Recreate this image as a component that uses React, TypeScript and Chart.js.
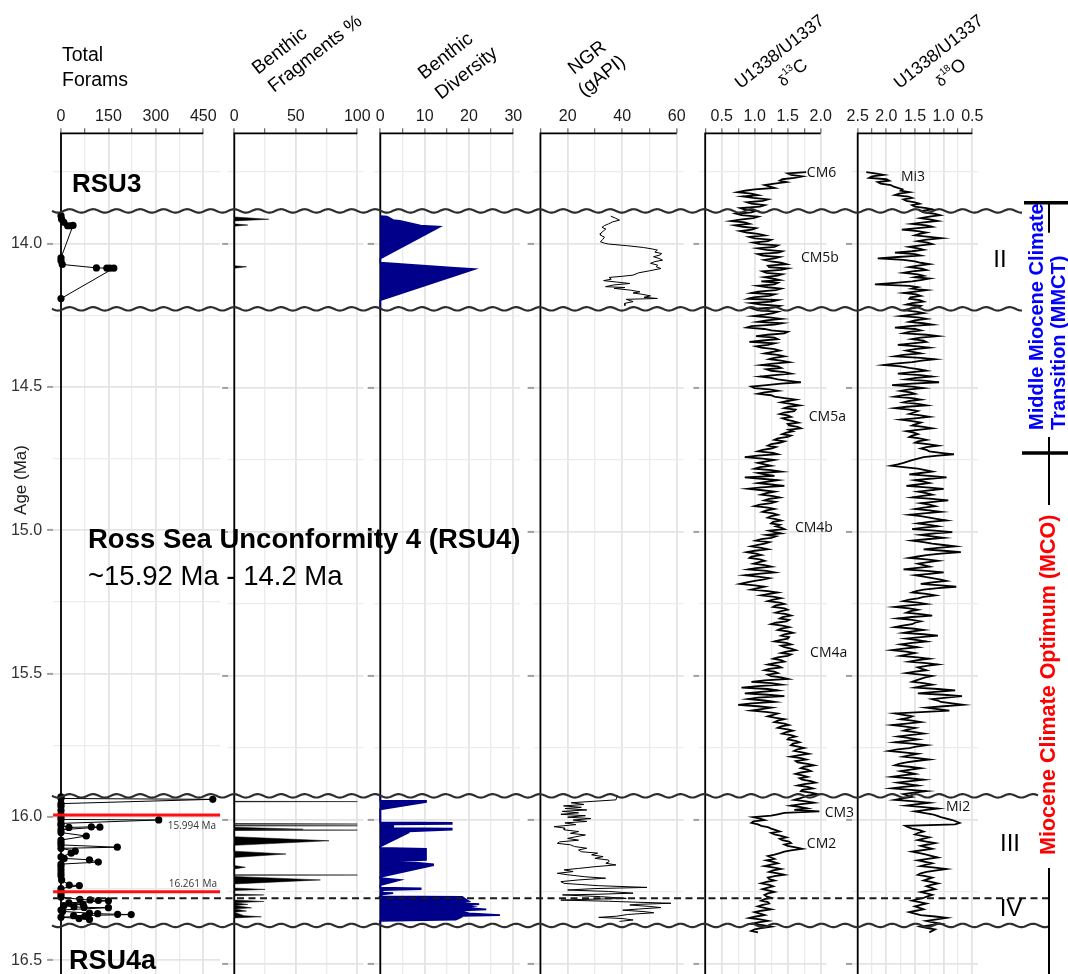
import React, { useEffect, useRef } from "react";
import { Chart, registerables } from "chart.js";

Chart.register(...registerables);

const SANS = "'Liberation Sans', Arial, Helvetica, sans-serif";
const OPEN = "'Open Sans', 'Liberation Sans', sans-serif";

// ---------------- shared age axis ----------------
const AGE_MIN = 13.6155;
const AGE_MAX = 16.5902;
const AGE_TICKS = [13.75, 14.0, 14.25, 14.5, 14.75, 15.0, 15.25, 15.5, 15.75, 16.0, 16.25, 16.5];
const AGE_MAJOR = [14.0, 14.5, 15.0, 15.5, 16.0, 16.5];

// ---------------- x ticks per panel ----------------
const FORAM_TICKS = [0, 75, 150, 225, 300, 375, 450];
const FORAM_LABELS = [0, 150, 300, 450];
const FRAG_TICKS = [0, 25, 50, 75, 100];
const FRAG_LABELS = [0, 50, 100];
const DIV_TICKS = [0, 5, 10, 15, 20, 25, 30];
const DIV_LABELS = [0, 10, 20, 30];
const NGR_TICKS = [10, 20, 30, 40, 50, 60];
const NGR_LABELS = [20, 40, 60];
const C13_TICKS = [0.25, 0.5, 0.75, 1.0, 1.25, 1.5, 1.75, 2.0];
const C13_LABELS = [0.5, 1.0, 1.5, 2.0];
const O18_TICKS = [0.5, 0.75, 1.0, 1.25, 1.5, 1.75, 2.0, 2.25, 2.5];
const O18_LABELS = [0.5, 1.0, 1.5, 2.0, 2.5];

// ---------------- data: [age (Ma), value] ----------------
const FORAMS_TOP = [
  [13.903, 0], [13.915, 2], [13.926, 9], [13.938, 21], [13.938, 31], [13.937, 38],
  [14.05, 0], [14.06, 0], [14.073, 4], [14.085, 112], [14.086, 145], [14.086, 155], [14.086, 167], [14.192, 0],
];
const FORAMS_BOTTOM = [
  [15.93, 0], [15.936, 0], [15.939, 480], [15.954, 0], [15.963, 0], [15.977, 0], [15.991, 0], [16.0, 0],
  [16.009, 0], [16.011, 309], [16.023, 0], [16.03, 0], [16.037, 25], [16.035, 96], [16.036, 123], [16.045, 0],
  [16.055, 0], [16.067, 80], [16.081, 0], [16.09, 0], [16.098, 0], [16.106, 178], [16.11, 0], [16.12, 45],
  [16.127, 32], [16.14, 0], [16.145, 10], [16.15, 90], [16.158, 118], [16.165, 0], [16.173, 0], [16.185, 0],
  [16.196, 0], [16.206, 0], [16.22, 2], [16.238, 26], [16.24, 58], [16.25, 0], [16.262, 0], [16.272, 0],
  [16.28, 0], [16.288, 60], [16.29, 92], [16.292, 118], [16.293, 150], [16.3, 25], [16.305, 70], [16.31, 9],
  [16.314, 41], [16.316, 73], [16.317, 150], [16.325, 0], [16.33, 5], [16.336, 90], [16.338, 116], [16.34, 179],
  [16.341, 222], [16.345, 40], [16.347, 75], [16.35, 0], [16.355, 57], [16.358, 90],
];

const FRAG_TOP = [
  [13.9, 0], [13.906, 0], [13.914, 28], [13.92, 0], [13.93, 0], [13.934, 11], [13.938, 0],
  [14.075, 0], [14.079, 10], [14.084, 0], [14.21, 0],
];
const FRAG_BOTTOM = [
  [15.916, 0], [15.935, 0], [15.936, 100], [15.937, 0],
  [16.012, 0], [16.014, 100], [16.015, 0], [16.019, 0], [16.02, 100], [16.021, 0],
  [16.025, 0], [16.032, 56], [16.034, 0], [16.035, 100], [16.036, 0],
  [16.058, 0], [16.072, 77], [16.088, 0],
  [16.108, 0], [16.118, 42], [16.13, 0],
  [16.158, 0], [16.164, 9], [16.17, 0],
  [16.19, 0], [16.191, 100], [16.192, 0],
  [16.196, 0], [16.208, 70], [16.222, 0],
  [16.236, 0], [16.241, 25], [16.245, 0],
  [16.257, 0], [16.26, 24], [16.263, 0],
  [16.278, 0], [16.283, 24], [16.287, 0], [16.293, 11], [16.297, 0], [16.305, 14], [16.309, 0],
  [16.316, 10], [16.32, 0], [16.332, 8], [16.336, 22], [16.34, 0], [16.366, 0],
];

const DIV_TOP = [
  [13.903, 0], [13.905, 1.5], [13.917, 2.9], [13.92, 4.4], [13.936, 9.1], [13.938, 11], [13.94, 13.4],
  [14.05, 0], [14.065, 0], [14.082, 16], [14.087, 21.2], [14.195, 0], [14.229, 0],
];
const DIV_BOTTOM = [
  [15.916, 0], [15.933, 0], [15.934, 10.3], [15.937, 10.3], [15.963, 0],
  [16.008, 0], [16.01, 16.1], [16.013, 16.1], [16.015, 2.9], [16.028, 2.9], [16.03, 16.1], [16.033, 16.1],
  [16.039, 6.4], [16.043, 6.4], [16.092, 0],
  [16.097, 0], [16.1, 10.3], [16.138, 10.3], [16.142, 4], [16.154, 11.9], [16.157, 11.9], [16.197, 0],
  [16.202, 0], [16.208, 4.4], [16.226, 0],
  [16.235, 0], [16.237, 9.1], [16.24, 9.1], [16.243, 0.5],
  [16.252, 0.5], [16.254, 2.9], [16.258, 0.5],
  [16.265, 0], [16.267, 18.5], [16.275, 19.2], [16.283, 20], [16.288, 18], [16.292, 22.3], [16.296, 19],
  [16.301, 20.8], [16.305, 19], [16.31, 23.9], [16.314, 19], [16.318, 18.4], [16.324, 20], [16.33, 27],
  [16.333, 18.4], [16.336, 18.4], [16.342, 17.6], [16.346, 17], [16.35, 0], [16.366, 0],
];

const NGR_TOP = [
  [13.903, 35.8], [13.91, 37.5], [13.917, 39], [13.923, 36.5], [13.93, 35], [13.936, 33.5], [13.942, 32.6],
  [13.948, 34], [13.954, 33.2], [13.962, 32.2], [13.969, 32], [13.976, 33.5], [13.984, 32.9], [13.992, 32],
  [13.997, 33.5], [14.0, 35], [14.006, 42], [14.012, 47.8], [14.017, 51], [14.021, 52.9], [14.028, 52],
  [14.033, 54.5], [14.038, 53.9], [14.044, 51.5], [14.05, 53.5], [14.056, 54.8], [14.061, 52], [14.067, 50.4],
  [14.073, 53], [14.079, 52.5], [14.085, 54.2], [14.093, 50], [14.1, 46], [14.108, 44], [14.112, 40],
  [14.116, 35.2], [14.122, 36], [14.127, 33.2], [14.132, 38], [14.137, 42.8], [14.142, 37], [14.148, 33.9],
  [14.151, 41], [14.154, 37], [14.16, 43], [14.166, 46.5], [14.17, 44], [14.174, 47], [14.18, 50.4],
  [14.185, 48], [14.189, 52.9], [14.192, 41.5], [14.2, 44], [14.206, 40.9], [14.214, 41],
];
const NGR_BOTTOM = [
  [15.913, 38.3], [15.93, 37.7], [15.94, 21.3], [15.946, 26], [15.951, 18.5], [15.956, 25], [15.96, 19],
  [15.965, 27], [15.97, 18], [15.975, 24], [15.98, 17.5], [15.985, 26.5], [15.99, 20], [15.995, 28.5],
  [16.0, 22], [16.005, 27], [16.01, 19], [16.016, 23], [16.023, 15], [16.028, 19], [16.034, 18.7],
  [16.04, 24], [16.046, 21], [16.052, 26.5], [16.058, 23], [16.064, 20], [16.07, 24], [16.076, 17],
  [16.081, 16.2], [16.086, 21], [16.092, 22.5], [16.098, 27], [16.104, 24], [16.11, 25], [16.115, 31],
  [16.121, 28.8], [16.127, 33], [16.133, 30], [16.139, 35], [16.145, 35.2], [16.15, 34], [16.156, 37.7],
  [16.162, 30], [16.168, 24], [16.173, 18.7], [16.179, 22], [16.185, 16.2], [16.19, 20], [16.197, 26.3],
  [16.202, 33.9], [16.208, 24], [16.214, 17.5], [16.22, 18.7], [16.224, 25], [16.228, 31.4], [16.234, 49.1],
  [16.238, 30], [16.243, 20], [16.248, 35], [16.254, 44], [16.258, 30], [16.26, 18.1], [16.266, 32],
  [16.272, 41.5], [16.276, 25], [16.278, 17.5], [16.282, 35], [16.285, 44], [16.289, 57.9], [16.293, 45],
  [16.295, 42.8], [16.3, 50], [16.304, 54.2], [16.309, 46], [16.313, 40.2], [16.318, 48], [16.322, 51.6],
  [16.328, 42], [16.334, 38], [16.338, 31.4], [16.342, 40], [16.347, 44], [16.352, 39],
];

// isotope records (U1338/U1337): values at ISO_AGES, and at the half-steps between them
const ISO_AGES = [
  13.75, 13.76, 13.77, 13.78, 13.79, 13.8, 13.81, 13.82, 13.83, 13.84,
  13.85, 13.86, 13.87, 13.88, 13.89, 13.9, 13.91, 13.92, 13.93, 13.94,
  13.95, 13.96, 13.97, 13.98, 13.99, 14.0, 14.01, 14.02, 14.03, 14.04,
  14.05, 14.06, 14.07, 14.08, 14.09, 14.1, 14.11, 14.12, 14.13, 14.14,
  14.15, 14.16, 14.17, 14.18, 14.19, 14.2, 14.21, 14.22, 14.23, 14.24,
  14.25, 14.26, 14.27, 14.28, 14.29, 14.3, 14.31, 14.32, 14.33, 14.34,
  14.35, 14.36, 14.37, 14.38, 14.39, 14.4, 14.41, 14.42, 14.43, 14.44,
  14.45, 14.46, 14.47, 14.48, 14.49, 14.5, 14.51, 14.52, 14.53, 14.54,
  14.55, 14.56, 14.57, 14.58, 14.59, 14.6, 14.61, 14.62, 14.63, 14.64,
  14.65, 14.66, 14.67, 14.68, 14.69, 14.7, 14.71, 14.72, 14.73, 14.74,
  14.75, 14.76, 14.77, 14.78, 14.79, 14.8, 14.81, 14.82, 14.83, 14.84,
  14.85, 14.86, 14.87, 14.88, 14.89, 14.9, 14.91, 14.92, 14.93, 14.94,
  14.95, 14.96, 14.97, 14.98, 14.99, 15.0, 15.01, 15.02, 15.03, 15.04,
  15.05, 15.06, 15.07, 15.08, 15.09, 15.1, 15.11, 15.12, 15.13, 15.14,
  15.15, 15.16, 15.17, 15.18, 15.19, 15.2, 15.21, 15.22, 15.23, 15.24,
  15.25, 15.26, 15.27, 15.28, 15.29, 15.3, 15.31, 15.32, 15.33, 15.34,
  15.35, 15.36, 15.37, 15.38, 15.39, 15.4, 15.41, 15.42, 15.43, 15.44,
  15.45, 15.46, 15.47, 15.48, 15.49, 15.5, 15.51, 15.52, 15.53, 15.54,
  15.55, 15.56, 15.57, 15.58, 15.59, 15.6, 15.61, 15.62, 15.63, 15.64,
  15.65, 15.66, 15.67, 15.68, 15.69, 15.7, 15.71, 15.72, 15.73, 15.74,
  15.75, 15.76, 15.77, 15.78, 15.79, 15.8, 15.81, 15.82, 15.83, 15.84,
  15.85, 15.86, 15.87, 15.88, 15.89, 15.9, 15.91, 15.92, 15.93, 15.94,
  15.95, 15.96, 15.97, 15.98, 15.99, 16.0, 16.01, 16.02, 16.03, 16.04,
  16.05, 16.06, 16.07, 16.08, 16.09, 16.1, 16.11, 16.12, 16.13, 16.14,
  16.15, 16.16, 16.17, 16.18, 16.19, 16.2, 16.21, 16.22, 16.23, 16.24,
  16.25, 16.26, 16.27, 16.28, 16.29, 16.3, 16.31, 16.32, 16.33, 16.34,
  16.35, 16.36, 16.37, 16.38, 16.39,
];
const D13C = [
  1.78, 1.55, 1.6, 1.38, 1.3, 1.22, 1.0, 0.74, 1.05, 0.98,
  1.12, 0.95, 1.08, 0.84, 0.95, 0.8, 0.98, 0.64, 0.92, 0.82,
  0.96, 0.88, 1.15, 1.0, 1.2, 1.08, 1.3, 1.18, 1.36, 1.12,
  1.3, 1.25, 1.48, 1.22, 1.4, 1.18, 1.35, 1.28, 1.1, 1.3,
  1.2, 1.32, 0.95, 1.22, 0.9, 1.25, 1.1, 1.3, 1.05, 1.28,
  0.98, 1.4, 1.05, 1.3, 0.88, 1.25, 1.45, 1.02, 1.35, 0.92,
  1.2, 1.1, 1.38, 1.15, 1.45, 1.22, 1.52, 1.1, 1.4, 1.25,
  1.55, 1.08, 1.35, 1.7, 1.18, 1.0, 1.35, 1.05, 1.3, 1.62,
  1.4, 1.68, 1.45, 1.6, 1.38, 1.55, 1.48, 1.66, 1.52, 1.7,
  1.58, 1.42, 1.5, 1.3, 1.38, 1.2, 1.25, 1.05, 1.35, 0.85,
  1.3, 1.05, 1.25, 1.0, 1.4, 1.15, 0.85, 1.35, 1.05, 1.45,
  0.9, 1.3, 1.1, 1.38, 1.15, 1.25, 1.0, 1.3, 1.12, 1.35,
  1.2, 1.4, 1.25, 1.32, 1.45, 1.3, 1.18, 1.25, 1.02, 1.15,
  0.95, 1.2, 0.88, 1.1, 0.92, 1.15, 0.98, 1.25, 0.9, 1.3,
  0.85, 1.22, 1.0, 0.78, 1.15, 0.95, 1.35, 1.1, 1.4, 1.2,
  1.45, 1.28, 1.5, 1.32, 1.55, 1.38, 1.48, 1.25, 1.52, 1.35,
  1.58, 1.4, 1.5, 1.3, 1.55, 1.45, 1.62, 1.4, 1.5, 1.28,
  1.45, 1.2, 1.4, 1.15, 1.35, 1.25, 1.5, 0.95, 1.4, 0.8,
  1.35, 0.85, 1.45, 0.9, 1.3, 0.75, 1.25, 0.95, 1.35, 1.2,
  1.45, 1.3, 1.52, 1.35, 1.58, 1.42, 1.62, 1.5, 1.68, 1.55,
  1.75, 1.6, 1.82, 1.55, 1.78, 1.65, 1.9, 1.7, 1.85, 1.62,
  1.8, 1.72, 1.92, 1.65, 1.88, 1.7, 1.95, 1.75, 1.6, 1.9,
  1.55, 1.8, 1.98, 1.35, 0.98, 1.15, 0.95, 1.1, 1.25, 1.38,
  1.3, 1.48, 1.42, 1.55, 1.5, 1.72, 1.45, 1.3, 1.25, 1.18,
  1.35, 1.15, 1.4, 1.22, 1.45, 1.2, 1.3, 1.1, 1.28, 1.12,
  1.3, 1.15, 1.25, 1.1, 1.22, 1.05, 1.25, 1.0, 1.15, 0.92,
  1.2, 0.95, 1.25, 1.0, 1.05,
];
const D13C_HALF = [
  1.5, 1.72, 1.42, 1.48, 1.15, 1.3, 0.85, 0.95, 0.82, 1.2,
  0.88, 1.15, 0.78, 1.02, 0.72, 1.05, 0.78, 0.85, 0.7, 1.02,
  0.78, 1.05, 0.92, 1.25, 0.98, 1.35, 1.05, 1.42, 1.05, 1.38,
  1.15, 1.4, 1.2, 1.5, 1.12, 1.42, 1.15, 1.38, 1.35, 1.05,
  1.4, 1.05, 1.3, 0.98, 1.35, 0.95, 1.38, 0.98, 1.35, 1.15,
  1.22, 1.18, 1.42, 0.95, 1.15, 1.5, 1.2, 1.3, 1.12, 1.3,
  1.02, 1.3, 1.25, 1.35, 1.3, 1.4, 1.28, 1.35, 1.18, 1.45,
  1.3, 1.25, 1.52, 1.4, 0.95, 1.22, 1.15, 1.25, 1.45, 1.5,
  1.55, 1.52, 1.62, 1.45, 1.5, 1.42, 1.58, 1.5, 1.65, 1.52,
  1.48, 1.55, 1.35, 1.45, 1.25, 1.32, 1.12, 1.28, 1.05, 1.12,
  1.18, 1.15, 1.08, 1.25, 1.05, 1.3, 1.1, 1.2, 1.25, 1.1,
  1.12, 1.18, 1.28, 1.22, 1.32, 1.08, 1.2, 1.18, 1.28, 1.25,
  1.32, 1.28, 1.38, 1.4, 1.22, 1.4, 1.32, 1.1, 1.22, 1.05,
  1.1, 1.0, 1.02, 0.95, 1.08, 1.05, 1.15, 1.02, 1.18, 1.05,
  1.05, 1.12, 0.88, 1.0, 1.05, 1.2, 1.22, 1.3, 1.28, 1.38,
  1.32, 1.45, 1.4, 1.48, 1.42, 1.52, 1.32, 1.42, 1.4, 1.5,
  1.45, 1.52, 1.38, 1.48, 1.4, 1.55, 1.48, 1.55, 1.35, 1.4,
  1.3, 1.35, 1.22, 1.3, 1.2, 1.4, 1.15, 1.25, 1.05, 1.2,
  1.1, 1.2, 1.05, 1.15, 0.95, 1.05, 1.1, 1.2, 1.28, 1.32,
  1.35, 1.45, 1.4, 1.5, 1.48, 1.55, 1.52, 1.62, 1.58, 1.66,
  1.65, 1.72, 1.68, 1.7, 1.62, 1.8, 1.75, 1.8, 1.7, 1.72,
  1.68, 1.85, 1.75, 1.8, 1.72, 1.85, 1.8, 1.68, 1.78, 1.7,
  1.7, 1.6, 1.45, 1.25, 1.08, 0.98, 1.05, 1.2, 1.32, 1.25,
  1.4, 1.38, 1.52, 1.45, 1.62, 1.55, 1.38, 1.2, 1.3, 1.28,
  1.25, 1.3, 1.28, 1.35, 1.3, 1.22, 1.18, 1.22, 1.2, 1.22,
  1.2, 1.18, 1.15, 1.2, 1.12, 1.15, 1.1, 1.08, 1.02, 1.08,
  1.05, 1.12, 1.1, 0.95,
];
const D18O = [
  2.35, 2.05, 2.3, 1.95, 2.1, 1.88, 1.72, 1.6, 1.85, 1.55,
  1.65, 1.42, 1.5, 1.19, 1.35, 1.06, 1.4, 1.1, 1.55, 1.2,
  1.73, 1.3, 1.5, 1.03, 1.45, 1.2, 1.6, 1.35, 1.85, 1.4,
  2.15, 1.5, 1.25, 1.6, 1.3, 1.7, 1.35, 1.25, 1.55, 2.2,
  1.45, 1.3, 1.7, 1.4, 1.6, 1.35, 1.65, 1.45, 1.7, 1.35,
  1.75, 1.3, 1.6, 1.2, 1.85, 1.4, 1.7, 1.1, 1.55, 1.3,
  1.8, 1.25, 1.65, 1.4, 1.85, 1.15, 1.55, 2.05, 1.6, 1.3,
  1.8, 1.2, 1.65, 1.08, 1.9, 1.35, 1.75, 1.5, 1.85, 1.4,
  1.7, 1.3, 1.85, 1.45, 1.6, 1.25, 1.75, 1.4, 1.55, 1.2,
  1.65, 1.45, 1.6, 1.3, 1.5, 1.1, 1.4, 1.25, 0.82, 1.35,
  1.55, 1.7, 1.92, 1.45, 1.2, 1.6, 0.95, 1.5, 1.25, 1.65,
  1.0, 1.45, 1.2, 1.55, 0.92, 1.4, 1.15, 1.5, 1.05, 1.6,
  1.25, 0.95, 1.45, 1.1, 1.55, 0.85, 1.4, 1.0, 1.55, 1.2,
  0.8, 1.35, 0.7, 1.3, 1.6, 1.1, 1.45, 1.25, 1.7, 1.0,
  1.5, 1.2, 0.95, 1.4, 0.78, 1.35, 1.55, 1.15, 1.45, 1.7,
  1.3, 1.85, 1.45, 1.65, 1.2, 1.8, 1.4, 1.55, 1.85, 1.35,
  1.7, 1.1, 1.65, 1.3, 1.75, 1.45, 1.9, 1.5, 1.75, 1.25,
  1.6, 1.1, 1.45, 1.3, 1.65, 1.2, 1.4, 1.55, 1.2, 1.5,
  0.8, 1.45, 0.68, 1.2, 1.05, 0.66, 1.3, 0.9, 1.85, 1.55,
  1.75, 1.4, 1.9, 1.5, 1.7, 1.35, 1.8, 1.45, 1.85, 1.3,
  1.6, 1.95, 1.45, 1.7, 1.25, 1.65, 1.85, 1.4, 1.75, 1.5,
  1.9, 1.35, 1.8, 1.45, 1.9, 1.3, 1.7, 1.55, 1.85, 1.25,
  1.65, 1.1, 1.5, 1.2, 1.05, 0.85, 0.72, 1.67, 1.55, 1.35,
  1.5, 1.25, 1.45, 1.15, 1.4, 1.2, 1.55, 1.3, 1.1, 1.45,
  1.2, 1.4, 0.95, 1.3, 1.45, 1.2, 1.35, 1.1, 1.3, 1.15,
  1.4, 1.2, 1.35, 1.55, 1.3, 1.5, 1.35, 1.6, 1.4, 0.95,
  1.3, 1.05, 1.4, 1.15, 1.25,
];
const D18O_HALF = [
  2.2, 2.25, 2.0, 2.15, 1.92, 1.8, 1.75, 1.78, 1.62, 1.7,
  1.5, 1.55, 1.3, 1.4, 1.15, 1.25, 1.22, 1.35, 1.3, 1.45,
  1.45, 1.42, 1.25, 1.3, 1.28, 1.4, 1.45, 1.55, 1.5, 1.8,
  1.7, 1.4, 1.45, 1.38, 1.55, 1.45, 1.5, 1.4, 1.85, 1.6,
  1.55, 1.5, 1.48, 1.58, 1.42, 1.55, 1.4, 1.6, 1.48, 1.55,
  1.45, 1.5, 1.35, 1.6, 1.5, 1.6, 1.3, 1.4, 1.35, 1.55,
  1.45, 1.5, 1.52, 1.7, 1.4, 1.38, 1.85, 1.75, 1.42, 1.55,
  1.4, 1.48, 1.3, 1.55, 1.55, 1.6, 1.58, 1.7, 1.55, 1.6,
  1.45, 1.65, 1.6, 1.52, 1.4, 1.5, 1.55, 1.48, 1.35, 1.45,
  1.52, 1.55, 1.42, 1.45, 1.28, 1.3, 1.3, 1.05, 1.1, 1.45,
  1.62, 1.8, 1.7, 1.32, 1.4, 1.25, 1.25, 1.35, 1.45, 1.3,
  1.25, 1.3, 1.4, 1.2, 1.18, 1.25, 1.35, 1.25, 1.35, 1.4,
  1.1, 1.25, 1.25, 1.35, 1.15, 1.15, 1.2, 1.3, 1.35, 1.0,
  1.1, 1.0, 1.05, 1.45, 1.3, 1.3, 1.35, 1.5, 1.3, 1.25,
  1.35, 1.05, 1.2, 1.05, 1.1, 1.48, 1.3, 1.35, 1.6, 1.45,
  1.6, 1.6, 1.58, 1.4, 1.55, 1.55, 1.5, 1.72, 1.55, 1.55,
  1.35, 1.4, 1.45, 1.55, 1.6, 1.7, 1.65, 1.62, 1.45, 1.45,
  1.3, 1.3, 1.38, 1.5, 1.4, 1.32, 1.48, 1.35, 1.38, 1.1,
  1.15, 1.0, 0.95, 1.1, 0.85, 1.0, 1.1, 1.4, 1.7, 1.62,
  1.55, 1.65, 1.7, 1.62, 1.5, 1.6, 1.62, 1.65, 1.55, 1.48,
  1.8, 1.7, 1.58, 1.45, 1.48, 1.78, 1.6, 1.58, 1.62, 1.72,
  1.6, 1.58, 1.62, 1.7, 1.58, 1.52, 1.62, 1.72, 1.5, 1.45,
  1.35, 1.3, 1.35, 1.12, 0.95, 0.78, 0.8, 1.62, 1.42, 1.45,
  1.38, 1.35, 1.3, 1.28, 1.3, 1.38, 1.42, 1.2, 1.28, 1.32,
  1.3, 1.15, 1.12, 1.4, 1.32, 1.28, 1.22, 1.22, 1.22, 1.28,
  1.3, 1.28, 1.45, 1.42, 1.4, 1.42, 1.48, 1.5, 1.15, 1.12,
  1.18, 1.22, 1.28, 1.2,
];

// ---------------- annotations ----------------
const UNCONFORMITY_AGES = [13.885, 14.225, 15.916, 16.366];
const DASHED_AGE = 16.272;
const MARKER_AGES = [15.994, 16.261];
const MARKER_LABELS = ["15.994 Ma", "16.261 Ma"];
const C13_EVENTS = [
  ["CM6", 1.79, 13.755], ["CM5b", 1.7, 14.05], ["CM5a", 1.82, 14.601], ["CM4b", 1.61, 14.986],
  ["CM4a", 1.84, 15.42], ["CM3", 2.06, 15.976], ["CM2", 1.79, 16.083],
];
const O18_EVENTS = [["Mi3", 1.745, 13.768], ["Mi2", 0.959, 15.955]];
const CLIMATE_BOUNDS = [13.857, 14.726];
const MCO_LINE_AGE = 16.167;
const INTERVALS = [["II", 14.05], ["III", 16.077], ["IV", 16.302]];

// ---------------- layout ----------------
const AXIS_TOP = 133.3;
const XAXIS_H = 30;
const CANVAS_H = 990;
const GRID_MAJOR = "#e4e4e4";
const GRID_MINOR = "#ececec";

const near = (v, arr) => arr.some((m) => Math.abs(m - v) < 1e-9);

function axisLines(from, to) {
  return {
    id: "axisLines",
    beforeDatasetsDraw(chart) {
      const { ctx, chartArea } = chart;
      const x = chart.scales.x;
      const x0 = x.getPixelForValue(from);
      const x1 = x.getPixelForValue(to);
      ctx.save();
      ctx.strokeStyle = "#000";
      ctx.lineWidth = 1.8;
      ctx.beginPath();
      ctx.moveTo(x0, chartArea.bottom);
      ctx.lineTo(x0, chartArea.top);
      ctx.lineTo(x1, chartArea.top);
      ctx.stroke();
      ctx.restore();
    },
  };
}

const markerPlugin = {
  id: "markers",
  afterDatasetsDraw(chart) {
    const { ctx, chartArea } = chart;
    const y = chart.scales.y;
    ctx.save();
    ctx.strokeStyle = "#ff1010";
    ctx.lineWidth = 3;
    MARKER_AGES.forEach((a) => {
      const py = y.getPixelForValue(a);
      ctx.beginPath();
      ctx.moveTo(chartArea.left, py);
      ctx.lineTo(chartArea.right, py);
      ctx.stroke();
    });
    ctx.fillStyle = "#333";
    ctx.font = `10px ${OPEN}`;
    ctx.textAlign = "right";
    ctx.textBaseline = "middle";
    ctx.fillText(MARKER_LABELS[0], chartArea.right - 4, y.getPixelForValue(MARKER_AGES[0]) + 11);
    ctx.fillText(MARKER_LABELS[1], chartArea.right - 3, y.getPixelForValue(MARKER_AGES[1]) - 7);
    ctx.restore();
  },
};

function eventLabels(list) {
  return {
    id: "events",
    afterDatasetsDraw(chart) {
      const { ctx } = chart;
      const x = chart.scales.x;
      const y = chart.scales.y;
      ctx.save();
      ctx.fillStyle = "#111";
      ctx.font = `14px ${OPEN}`;
      ctx.textAlign = "left";
      ctx.textBaseline = "middle";
      list.forEach(([t, v, a]) => ctx.fillText(t, x.getPixelForValue(v), y.getPixelForValue(a)));
      ctx.restore();
    },
  };
}

const toPts = (arr) => arr.map(([a, v]) => ({ x: v, y: a }));
const lineDs = (data, width) => ({
  data, showLine: true, borderColor: "#000", borderWidth: width, pointRadius: 0, pointHitRadius: 0, fill: false,
  borderJoin: "miter",
});
const areaDs = (data, color, width) => ({
  data, showLine: true, borderColor: color, backgroundColor: color, borderWidth: width, pointRadius: 0,
  pointHitRadius: 0, fill: "shape",
});
const pointDs = (data) => ({
  data, showLine: true, borderColor: "#000", borderWidth: 1, pointRadius: 3.6, pointBackgroundColor: "#000",
  pointBorderWidth: 0, pointHitRadius: 0,
});

function isoPts(vals, half) {
  const pts = [];
  ISO_AGES.forEach((a, i) => {
    pts.push({ x: vals[i], y: a });
    if (i < ISO_AGES.length - 1) pts.push({ x: half[i], y: (a + ISO_AGES[i + 1]) / 2 });
  });
  return pts;
}

const PANELS = [
  {
    key: "forams", L: 53.09, R: 220.06, min: -25, max: 503, ticks: FORAM_TICKS, labels: FORAM_LABELS,
    from: 0, to: 450, yLabels: true, fmt: (v) => String(v),
    datasets: [pointDs(toPts(FORAMS_TOP)), pointDs(toPts(FORAMS_BOTTOM))], plugins: [markerPlugin],
  },
  {
    key: "frag", L: 228.15, R: 363.45, min: -5, max: 105, ticks: FRAG_TICKS, labels: FRAG_LABELS,
    from: 0, to: 100, fmt: (v) => String(v),
    datasets: [areaDs(toPts(FRAG_TOP), "#000", 0.5), areaDs(toPts(FRAG_BOTTOM), "#000", 0.5)], plugins: [],
  },
  {
    key: "div", L: 373.65, R: 519.95, min: -1.5, max: 31.5, ticks: DIV_TICKS, labels: DIV_LABELS,
    from: 0, to: 30, fmt: (v) => String(v),
    datasets: [areaDs(toPts(DIV_TOP), "#00008b", 1.8), areaDs(toPts(DIV_BOTTOM), "#00008b", 1.8)], plugins: [],
  },
  {
    key: "ngr", L: 533.6, R: 683.5, min: 7.5, max: 62.5, ticks: NGR_TICKS, labels: NGR_LABELS,
    from: 10, to: 60, fmt: (v) => String(v),
    datasets: [lineDs(toPts(NGR_TOP), 1), lineDs(toPts(NGR_BOTTOM), 1)], plugins: [],
  },
  {
    key: "c13", L: 699.4, R: 826.45, min: 0.1625, max: 2.0875, ticks: C13_TICKS, labels: C13_LABELS,
    from: 0.25, to: 2.0, fmt: (v) => v.toFixed(1), extraRight: 40,
    datasets: [lineDs(isoPts(D13C, D13C_HALF), 1.8)], plugins: [eventLabels(C13_EVENTS)],
  },
  {
    key: "o18", L: 851.97, R: 978.03, min: 0.4, max: 2.6, reverse: true, ticks: O18_TICKS, labels: O18_LABELS,
    from: 2.5, to: 0.5, fmt: (v) => v.toFixed(1),
    datasets: [lineDs(isoPts(D18O, D18O_HALF), 1.8)], plugins: [eventLabels(O18_EVENTS)],
  },
];

function geom(p) {
  const left = p.yLabels ? 0 : Math.floor(p.L) - 25;
  const right = Math.ceil(p.R) + (p.extraRight || 25);
  return { left, w: right - left };
}

function makePanel(canvas, p) {
  const g = geom(p);
  const yWidth = p.yLabels ? p.L - g.left : 6;
  const padLeft = p.L - g.left - yWidth;
  const padRight = g.left + g.w - p.R;
  const majorX = (ctx) => near(ctx.tick ? ctx.tick.value : NaN, p.labels);
  const majorY = (ctx) => near(ctx.tick ? ctx.tick.value : NaN, AGE_MAJOR);
  return new Chart(canvas, {
    type: "scatter",
    data: { datasets: p.datasets },
    options: {
      animation: false,
      responsive: false,
      devicePixelRatio: 1,
      events: [],
      layout: { padding: { left: padLeft, right: padRight, top: AXIS_TOP - XAXIS_H, bottom: 0 } },
      plugins: { legend: { display: false }, tooltip: { enabled: false } },
      scales: {
        x: {
          type: "linear",
          position: "top",
          min: p.min,
          max: p.max,
          reverse: !!p.reverse,
          afterBuildTicks: (s) => { s.ticks = p.ticks.map((v) => ({ value: v })); },
          afterFit: (s) => { s.height = XAXIS_H; s.paddingLeft = 0; s.paddingRight = 0; s.paddingTop = 0; s.paddingBottom = 0; },
          border: { display: false },
          grid: {
            color: (c) => (majorX(c) ? GRID_MAJOR : GRID_MINOR),
            lineWidth: (c) => (majorX(c) ? 1.8 : 1.3),
            drawTicks: true,
            tickLength: 5,
            tickColor: "#666",
            tickWidth: 1.2,
          },
          ticks: {
            autoSkip: false, maxRotation: 0, minRotation: 0, padding: 2, color: "#1a1a1a",
            font: { family: SANS, size: 16 },
            callback: (v) => (near(v, p.labels) ? p.fmt(v) : ""),
          },
        },
        y: {
          type: "linear",
          position: "left",
          reverse: true,
          min: AGE_MIN,
          max: AGE_MAX,
          afterBuildTicks: (s) => { s.ticks = AGE_TICKS.map((v) => ({ value: v })); },
          afterFit: (s) => { s.width = yWidth; s.paddingTop = 0; s.paddingBottom = 0; },
          border: { display: false },
          grid: {
            color: (c) => (majorY(c) ? GRID_MAJOR : GRID_MINOR),
            lineWidth: (c) => (majorY(c) ? 1.8 : 1.3),
            drawTicks: true,
            tickLength: 6,
            tickColor: (c) => (majorY(c) ? "#a0a0a0" : "rgba(0,0,0,0)"),
            tickWidth: 2,
          },
          ticks: {
            display: !!p.yLabels, autoSkip: false, padding: 5, color: "#333",
            font: { family: SANS, size: 16 },
            callback: (v) => (near(v, AGE_MAJOR) ? Number(v).toFixed(1) : ""),
          },
        },
      },
    },
    plugins: [axisLines(p.from, p.to), ...p.plugins],
  });
}

function wavy(ctx, x0, x1, y) {
  ctx.beginPath();
  for (let x = x0; x <= x1; x += 1) {
    const yy = y + 1.7 * Math.sin(((x - x0) / 23.5) * 2 * Math.PI);
    if (x === x0) ctx.moveTo(x, yy);
    else ctx.lineTo(x, yy);
  }
  ctx.stroke();
}

function rotText(ctx, text, x, y, font, color, align) {
  ctx.save();
  ctx.translate(x, y);
  ctx.rotate(-Math.PI / 2);
  ctx.font = font;
  ctx.fillStyle = color;
  ctx.textAlign = align || "left";
  ctx.textBaseline = "alphabetic";
  ctx.fillText(text, 0, 0);
  ctx.restore();
}

const overlayPlugin = {
  id: "overlay",
  afterDraw(chart) {
    const { ctx } = chart;
    const ys = chart.scales.y;
    const y = (a) => ys.getPixelForValue(a);
    ctx.save();
    ctx.strokeStyle = "#2e2e2e";
    ctx.lineWidth = 2.2;
    ctx.lineJoin = "round";
    const ends = [1022, 1022, 1038, 1049];
    UNCONFORMITY_AGES.forEach((a, i) => wavy(ctx, 52, ends[i], y(a)));
    ctx.setLineDash([7, 4.5]);
    ctx.lineWidth = 2;
    ctx.strokeStyle = "#1a1a1a";
    ctx.beginPath();
    ctx.moveTo(53, y(DASHED_AGE));
    ctx.lineTo(1049, y(DASHED_AGE));
    ctx.stroke();
    ctx.setLineDash([]);
    ctx.strokeStyle = "#000";
    ctx.lineWidth = 3.5;
    ctx.beginPath();
    ctx.moveTo(1024, y(CLIMATE_BOUNDS[0]));
    ctx.lineTo(1068, y(CLIMATE_BOUNDS[0]));
    ctx.moveTo(1022, y(CLIMATE_BOUNDS[1]));
    ctx.lineTo(1068, y(CLIMATE_BOUNDS[1]));
    ctx.stroke();
    ctx.lineWidth = 2;
    ctx.beginPath();
    ctx.moveTo(1049, y(CLIMATE_BOUNDS[0]));
    ctx.lineTo(1049, y(CLIMATE_BOUNDS[0]) + 30);
    ctx.moveTo(1049, y(CLIMATE_BOUNDS[1]) - 16);
    ctx.lineTo(1049, y(CLIMATE_BOUNDS[1]) + 52);
    ctx.moveTo(1049, y(MCO_LINE_AGE));
    ctx.lineTo(1049, 990);
    ctx.stroke();
    ctx.fillStyle = "#000";
    ctx.textAlign = "left";
    ctx.textBaseline = "alphabetic";
    ctx.font = `bold 26px ${SANS}`;
    ctx.fillText("RSU3", 72, 191.5);
    ctx.font = `bold 27.5px ${SANS}`;
    ctx.fillText("Ross Sea Unconformity 4 (RSU4)", 88, 547.5);
    ctx.font = `27.5px ${SANS}`;
    ctx.fillText("~15.92 Ma - 14.2 Ma", 88, 585);
    ctx.font = `bold 27px ${SANS}`;
    ctx.fillText("RSU4a", 69, 969);
    ctx.font = `24px ${SANS}`;
    ctx.textAlign = "center";
    const xs = [1000, 1010, 1011];
    INTERVALS.forEach(([t, a], i) => ctx.fillText(t, xs[i], y(a) + 8.6));
    rotText(ctx, "Middle Miocene Climate", 1043.2, 430, `bold 20px ${SANS}`, "#0000ff");
    rotText(ctx, "Transition (MMCT)", 1065, 430, `bold 20px ${SANS}`, "#0000ff");
    rotText(ctx, "Miocene Climate Optimum (MCO)", 1054.5, 855, `bold 21.5px ${SANS}`, "#ff0000");
    rotText(ctx, "Age (Ma)", 25.5, 480, `17px ${SANS}`, "#1a1a1a", "center");
    ctx.restore();
  },
};

function makeOverlay(canvas) {
  return new Chart(canvas, {
    type: "scatter",
    data: { datasets: [] },
    options: {
      animation: false,
      responsive: false,
      devicePixelRatio: 1,
      events: [],
      layout: { padding: { left: 0, right: 0, top: AXIS_TOP, bottom: 0 } },
      plugins: { legend: { display: false }, tooltip: { enabled: false } },
      scales: {
        x: { type: "linear", display: false, min: 0, max: 1068 },
        y: { type: "linear", display: false, reverse: true, min: AGE_MIN, max: AGE_MAX },
      },
    },
    plugins: [overlayPlugin],
  });
}

function Label({ x, y, angle = 0, size = 19, center = false, children }) {
  return (
    <div style={{ position: "absolute", left: x, top: y, width: 0, height: 0, transformOrigin: "0 0", transform: `rotate(${angle}deg)` }}>
      <div
        style={{
          position: "absolute", left: 0, top: -0.8465 * size, fontSize: size, lineHeight: `${size}px`,
          whiteSpace: "nowrap", fontFamily: SANS, color: "#000", transform: center ? "translateX(-50%)" : undefined,
        }}
      >
        {children}
      </div>
    </div>
  );
}

function Delta({ sup, el }) {
  return (
    <span>
      <span style={{ fontSize: 15 }}>δ</span>
      <span style={{ fontSize: 10, position: "relative", top: -7.5 }}>{sup}</span>
      <span>{el}</span>
    </span>
  );
}

export default function App() {
  const refs = useRef([]);
  useEffect(() => {
    const charts = PANELS.map((p, i) => makePanel(refs.current[i], p));
    charts.push(makeOverlay(refs.current[PANELS.length]));
    return () => charts.forEach((c) => c.destroy());
  }, []);
  const A = -38;
  return (
    <div style={{ position: "absolute", left: 0, top: 0, width: 1068, height: 974, overflow: "hidden", background: "#fff" }}>
      {PANELS.map((p, i) => {
        const g = geom(p);
        return (
          <canvas
            key={p.key}
            ref={(el) => { refs.current[i] = el; }}
            width={g.w}
            height={CANVAS_H}
            style={{ position: "absolute", left: g.left, top: 0, width: g.w, height: CANVAS_H }}
          />
        );
      })}
      <canvas
        ref={(el) => { refs.current[PANELS.length] = el; }}
        width={1068}
        height={CANVAS_H}
        style={{ position: "absolute", left: 0, top: 0, width: 1068, height: CANVAS_H, pointerEvents: "none" }}
      />
      <Label x={62} y={61.5} size={19.5}>Total</Label>
      <Label x={62} y={86} size={19.5}>Forams</Label>
      <Label x={258.4} y={75} angle={A}>Benthic</Label>
      <Label x={274} y={93} angle={A}>Fragments %</Label>
      <Label x={424} y={80} angle={A}>Benthic</Label>
      <Label x={441} y={100} angle={A}>Diversity</Label>
      <Label x={574} y={75} angle={A}>NGR</Label>
      <Label x={584} y={97} angle={A}>(gAPI)</Label>
      <Label x={741} y={90} angle={A} size={17.5}>U1338/U1337</Label>
      <Label x={796} y={76.5} angle={A} size={18} center><Delta sup="13" el="C" /></Label>
      <Label x={899.7} y={90} angle={A} size={17.5}>U1338/U1337</Label>
      <Label x={954} y={77} angle={A} size={18} center><Delta sup="18" el="O" /></Label>
    </div>
  );
}
